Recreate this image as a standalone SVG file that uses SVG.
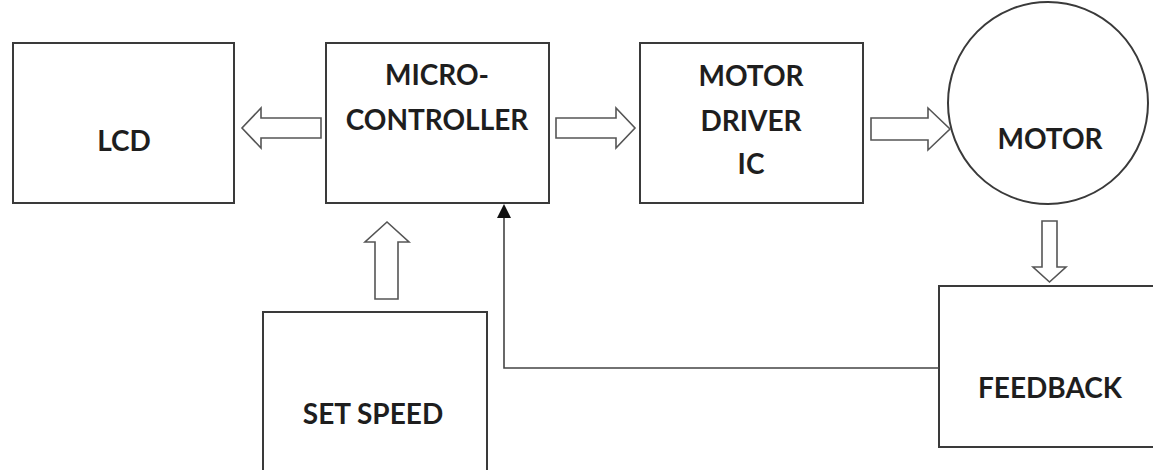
<svg xmlns="http://www.w3.org/2000/svg" width="1153" height="470" viewBox="0 0 1153 470">
<style>
.box{fill:#fff;stroke:#3a3a3a;stroke-width:2}
.blk{fill:#fff;stroke:#555;stroke-width:1.6;stroke-linejoin:miter}
.lbl{font-family:Lato,"Open Sans","Liberation Sans",sans-serif;font-weight:bold;font-size:28px;fill:#1e1e1e;text-anchor:middle}
.line{fill:none;stroke:#444;stroke-width:1.6}
</style>
<rect width="1153" height="470" fill="#fff"/>
<g id="lcd"><rect class="box" x="13" y="43" width="221" height="160"/><text class="lbl" x="124" y="151">LCD</text></g>
<g id="microcontroller"><rect class="box" x="326" y="43" width="223" height="160"/><text class="lbl" x="437" y="85">MICRO-</text><text class="lbl" x="437" y="130">CONTROLLER</text></g>
<g id="motor-driver"><rect class="box" x="640" y="43" width="223" height="160"/><text class="lbl" x="751" y="86">MOTOR</text><text class="lbl" x="751" y="131">DRIVER</text><text class="lbl" x="751" y="174">IC</text></g>
<g id="motor"><ellipse class="box" cx="1048" cy="103" rx="100" ry="101"/><text class="lbl" x="1050" y="149">MOTOR</text></g>
<g id="set-speed"><rect class="box" x="263" y="312" width="224" height="170"/><text class="lbl" x="373" y="424">SET SPEED</text></g>
<g id="feedback"><rect class="box" x="939" y="286" width="230" height="161"/><text class="lbl" x="1050" y="398">FEEDBACK</text></g>
<g id="connectors">
<path class="blk" d="M321,118 L261,118 L261,108 L242,128 L261,148 L261,138 L321,138 Z"/>
<path class="blk" d="M556,118 L616,118 L616,108 L635,128 L616,148 L616,138 L556,138 Z"/>
<path class="blk" d="M871,118 L928,118 L928,108 L950,129 L928,150 L928,140 L871,140 Z"/>
<path class="blk" d="M1042,221 L1057,221 L1057,267 L1066,267 L1049.5,282 L1033,267 L1042,267 Z"/>
<path class="blk" d="M375,299 L398,299 L398,242 L409,242 L387,222 L365,242 L375,242 Z"/>
<path class="line" d="M939,368 L504,368 L504,216"/>
<path d="M497,218 L504,204 L511,218 Z" fill="#111"/>
</g>
</svg>
